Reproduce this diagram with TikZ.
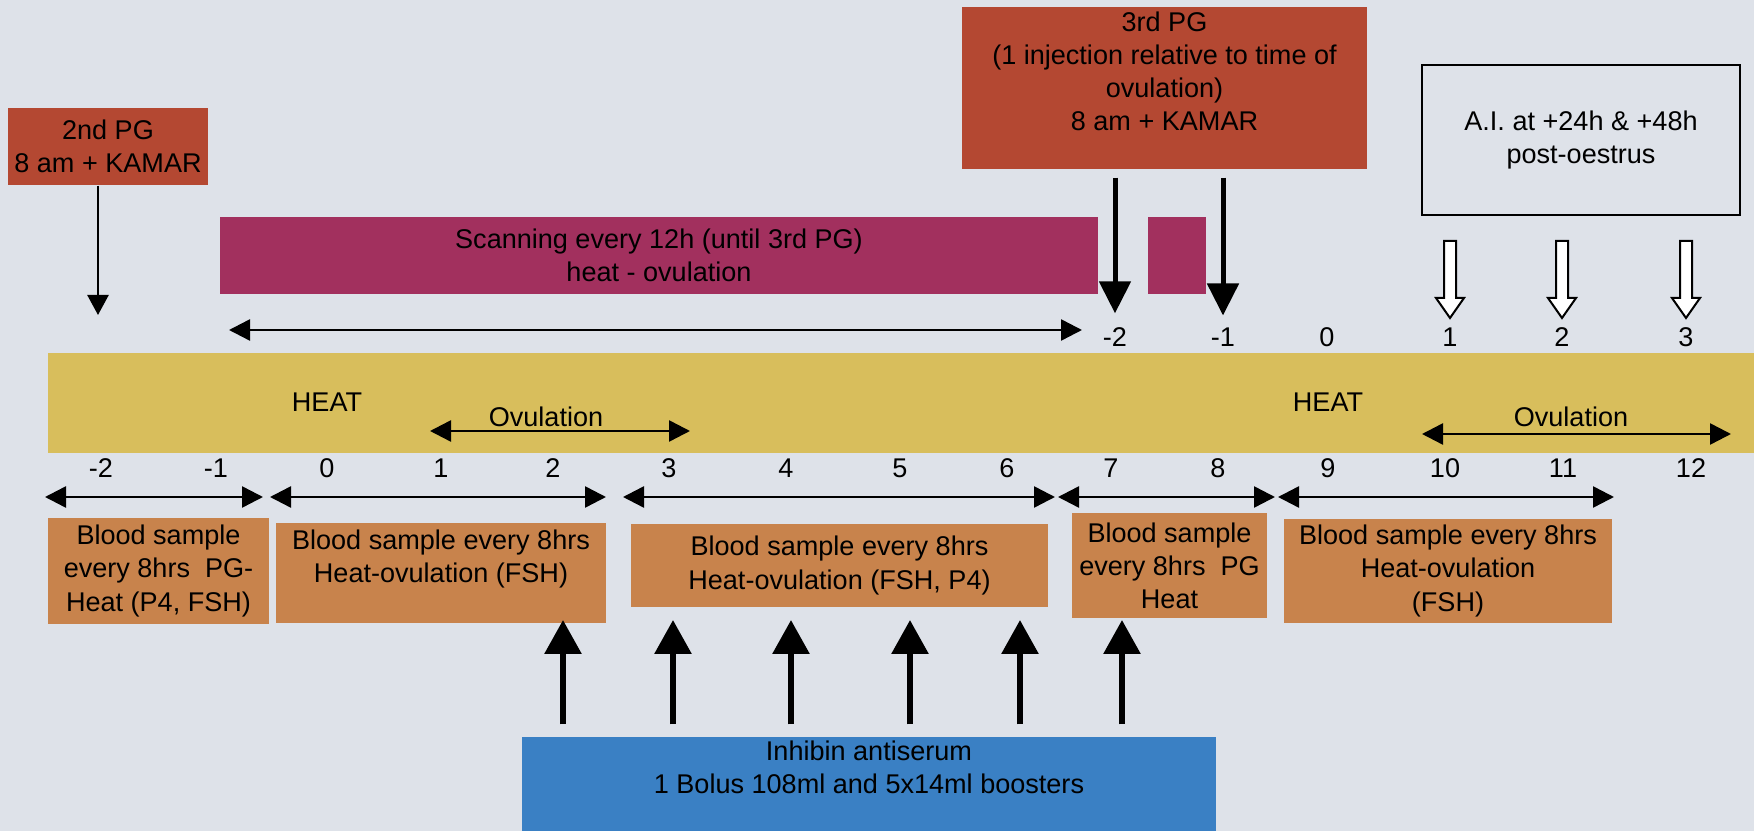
\documentclass[tikz,border=0pt]{standalone}
\usepackage{fontspec}
\setmainfont{Liberation Sans}
\usepackage{xcolor}
\definecolor{tlback}{HTML}{DEE2E9}
\definecolor{tlbrick}{HTML}{B44832}
\definecolor{tlplum}{HTML}{A2305E}
\definecolor{tlheat}{HTML}{D8BE5C}
\definecolor{tlblood}{HTML}{C8834C}
\definecolor{tlblue}{HTML}{3A80C4}
\usetikzlibrary{arrows.meta,positioning,calc}

\begin{document}
\begin{tikzpicture}[
  font=\fontsize{7.7}{9.4}\selectfont,
  evbox/.style={inner sep=0pt, align=center},
  pgbox/.style={evbox, fill=tlbrick},
  scanbox/.style={evbox, fill=tlplum, minimum height=0.77cm},
  bloodbox/.style={evbox, fill=tlblood},
  numlbl/.style={inner sep=1pt},
  lnarr/.style={-{Triangle[length=0.20cm,width=0.21cm]}, line width=0.025cm},
  dblarr/.style={{Triangle[length=0.21cm,width=0.21cm]}-{Triangle[length=0.21cm,width=0.21cm]},
                 line width=0.025cm},
  fatarr/.style={-{Triangle[length=0.32cm,width=0.31cm]}, line width=0.05cm},
  fatup/.style={-{Triangle[length=0.34cm,width=0.36cm]}, line width=0.06cm},
  openarr/.style={draw=black, fill=white, line width=0.02cm}
]
  \path[use as bounding box, fill=tlback] (0,0) rectangle (17.54,8.31);

  \node[pgbox, minimum width=2.00cm, minimum height=0.77cm] (pg2) at (1.08,6.845)
    {2nd PG\\8 am + KAMAR};
  \node[pgbox, minimum width=4.05cm, minimum height=1.62cm] (pg3) at (11.645,7.43)
    {3rd PG\\(1 injection relative to time of\\ovulation)\\8 am + KAMAR\\~};
  \node[evbox, draw=black, line width=0.02cm, minimum width=3.18cm, minimum height=1.50cm]
    (ai) at (15.81,6.91) {A.I. at +24h \& +48h\\post-oestrus};

  \node[scanbox, minimum width=8.78cm] (scan) at (6.59,5.755)
    {Scanning every 12h (until 3rd PG)\\heat - ovulation};
  \node[scanbox, minimum width=0.58cm] (scanb) at (11.77,5.755) {};

  \node[evbox, fill=tlheat, minimum width=17.06cm, minimum height=1.00cm] (heat) at (9.01,4.28) {};
  \node (heat1) at (3.27,4.29) {HEAT};
  \node (heat2) at (13.28,4.29) {HEAT};
  \node (ovl1) at (5.46,4.14) {Ovulation};
  \node (ovl2) at (15.71,4.14) {Ovulation};

  \foreach \n/\v/\x in {tm2/-2/11.15, tm1/-1/12.23, t0/0/13.27, t1/1/14.50, t2/2/15.62, t3/3/16.86}
    \node[numlbl] (\n) at (\x,4.94) {\v};
  \foreach \n/\v/\x in {bm2/-2/1.01, bm1/-1/2.16, b0/0/3.27, b1/1/4.41, b2/2/5.53, b3/3/6.69,
                        b4/4/7.86, b5/5/9.00, b6/6/10.07, b7/7/11.11, b8/8/12.18, b9/9/13.28,
                        b10/10/14.45, b11/11/15.63, b12/12/16.91}
    \node[numlbl] (\n) at (\x,3.63) {\v};

  \node[bloodbox, minimum width=2.21cm, minimum height=1.06cm] (bsA) at (1.585,2.60)
    {Blood sample\\every 8hrs\ \ PG-\\Heat (P4, FSH)};
  \node[bloodbox, minimum width=3.30cm, minimum height=1.00cm] (bsB) at (4.41,2.58)
    {Blood sample every 8hrs\\Heat-ovulation (FSH)\\~};
  \node[bloodbox, minimum width=4.17cm, minimum height=0.83cm] (bsC) at (8.395,2.655)
    {Blood sample every 8hrs\\Heat-ovulation (FSH, P4)};
  \node[bloodbox, minimum width=1.95cm, minimum height=1.05cm] (bsD) at (11.695,2.655)
    {Blood sample\\every 8hrs\ \ PG\\Heat};
  \node[bloodbox, minimum width=3.28cm, minimum height=1.04cm] (bsE) at (14.48,2.60)
    {Blood sample every 8hrs\\Heat-ovulation\\(FSH)};

  \node[evbox, fill=tlblue, minimum width=6.94cm, minimum height=0.94cm] (inh) at (8.69,0.47)
    {Inhibin antiserum\\1 Bolus 108ml and 5x14ml boosters\\~};

  \coordinate (pg2tip) at (0.98,5.16);
  \draw[lnarr] (pg2.south -| pg2tip) -- (pg2tip);

  \draw[fatarr, shorten >=0.1cm] ([yshift=-0.08cm]pg3.south -| tm2) -- (tm2.north);
  \draw[fatarr, shorten >=0.08cm] ([yshift=-0.08cm]pg3.south -| tm1) -- (tm1.north);

  \foreach \n in {t1,t2,t3}
    \draw[openarr] ([yshift=-0.25cm]ai.south -| \n) ++(-0.06,0) -- ++(0,-0.57) -- ++(-0.08,0)
      -- ++(0.14,-0.20) -- ++(0.14,0.20) -- ++(-0.08,0) -- ++(0,0.57) -- cycle;

  \coordinate (scl) at (2.29,5.01);
  \coordinate (scr) at (10.82,5.01);
  \draw[dblarr] (scl) -- (scr);

  \coordinate (ov1a) at (4.30,4.00);
  \coordinate (ov1b) at (6.90,4.00);
  \coordinate (ov2a) at (14.22,3.97);
  \coordinate (ov2b) at (17.31,3.97);
  \draw[dblarr] (ov1a) -- (ov1b);
  \draw[dblarr] (ov2a) -- (ov2b);

  \foreach \a/\b [count=\i] in {0.45/2.63, 2.70/6.06, 6.23/10.55, 10.58/12.75, 12.78/16.14} {
    \coordinate (sa\i) at (\a,3.34);
    \coordinate (sb\i) at (\b,3.34);
    \draw[dblarr] (sa\i) -- (sb\i);
  }

  \coordinate (uptip) at (0,2.11);
  \foreach \x in {5.63,6.73,7.91,9.10,10.20,11.22}
    \draw[fatup] ($(inh.north -| \x,0)+(0,0.12)$) -- (uptip -| \x,0);

\end{tikzpicture}
\end{document}
